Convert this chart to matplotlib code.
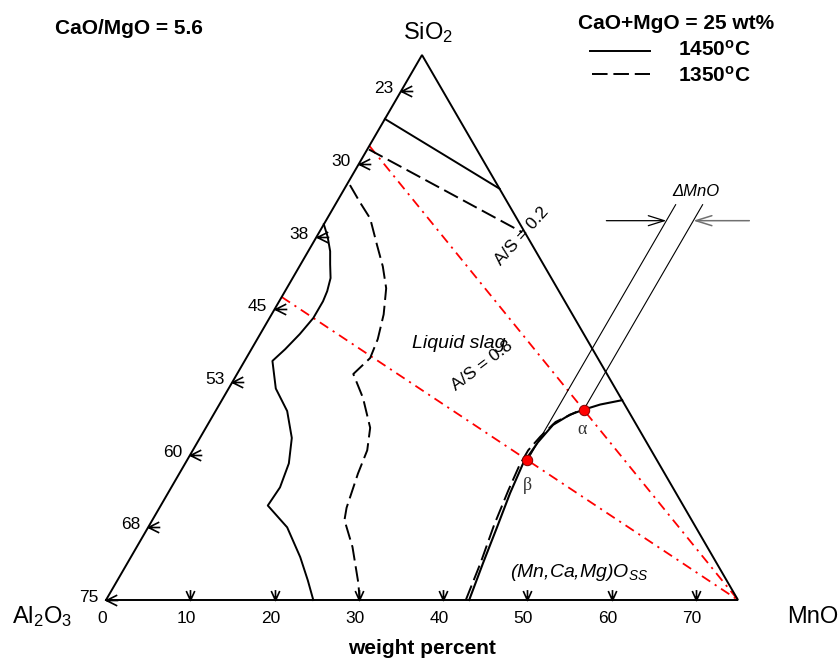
import numpy as np
import matplotlib
matplotlib.use("Agg")
import matplotlib.pyplot as plt
from matplotlib.path import Path
from matplotlib.lines import Line2D

plt.rcParams['font.family'] = ['Liberation Sans', 'DejaVu Sans']
plt.rcParams['mathtext.fontset'] = 'custom'
plt.rcParams['mathtext.rm'] = 'Liberation Sans'
plt.rcParams['mathtext.it'] = 'Liberation Sans:italic'
plt.rcParams['mathtext.bf'] = 'Liberation Sans:bold'

# ---------------- data (pseudo-ternary, wt%, MnO / SiO2 on a 75-unit triangle) ----------------
bottom_tick_vals = [10, 20, 30, 40, 50, 60, 70]
bottom_label_vals = [0, 10, 20, 30, 40, 50, 60, 70]
left_tick_vals = [0, 10, 20, 30, 40, 50, 60, 70]
left_labels = ['75', '68', '60', '53', '45', '38', '30', '23']

# 1450 C liquidus (solid)
l1450_top_mno = [0.0, 9.4, 18.4]
l1450_top_sio2 = [66.2, 61.3, 56.6]
l1450_left_mno = [0.0, 1.3, 2.6, 3.5, 4.5, 5.0, 5.2, 5.2, 4.7, 4.0, 3.3, 5.6, 8.5,
                  10.9, 12.3, 12.9, 12.7, 16.5, 20.1, 22.6, 24.6]
l1450_left_sio2 = [51.7, 50.0, 48.0, 46.2, 44.3, 42.5, 41.1, 38.8, 36.6, 34.5, 32.9, 29.1, 26.0,
                   22.3, 18.8, 15.5, 13.0, 10.0, 5.9, 2.7, 0.0]
l1450_right_mno = [43.1, 42.2, 41.4, 40.6, 40.1, 40.4, 41.0, 42.3, 43.6, 45.2, 47.5]
l1450_right_sio2 = [0.0, 5.1, 10.0, 14.7, 18.8, 21.7, 24.1, 25.5, 26.2, 26.9, 27.5]

# 1350 C liquidus (dashed)
l1350_top_mno = [0.2, 24.1]
l1350_top_sio2 = [62.0, 50.6]
l1350_left_mno = [0.4, 2.7, 5.1, 7.7, 9.9, 11.8, 13.3, 14.3, 14.7, 13.8, 16.6, 19.5, 20.7,
                  21.2, 22.2, 22.8, 25.6, 28.8, 30.1]
l1350_left_sio2 = [57.1, 54.8, 52.5, 48.9, 45.9, 42.9, 39.3, 35.9, 33.3, 31.1, 27.8, 23.7, 20.6,
                   17.4, 12.7, 11.0, 7.3, 2.3, 0.0]
l1350_right_mno = [42.7, 41.9, 40.9, 40.2, 39.8, 39.8, 40.3, 41.1, 42.9]
l1350_right_sio2 = [0.0, 5.1, 10.3, 15.1, 18.5, 20.6, 22.5, 24.5, 25.9]

# A/S lines (red dash-dot), SiO2 where they meet the Al2O3-SiO2 side
as_left_sio2 = [62.5, 41.7]

# points alpha and beta
alpha_mno, alpha_sio2 = 43.6, 26.2
beta_mno, beta_sio2 = 40.4, 19.2
dmno_top_sio2 = 54.4
dmno_arrow_sio2 = 52.2

# ---------------- geometry ----------------
W, H = 839, 659
Ax, Ay = 106, 600          # Al2O3 corner in pixels
kx = 632 / 75.0
ky = 545 / (75 * np.sqrt(3) / 2)


def tern(mno, sio2):
    mno = np.asarray(mno, dtype=float)
    sio2 = np.asarray(sio2, dtype=float)
    return mno + sio2 / 2.0, sio2 * np.sqrt(3) / 2.0


def fx(px):
    return px / W


def fy(py):
    return 1 - py / H


fig = plt.figure(figsize=(W / 100, H / 100), dpi=100)
ax = fig.add_axes([0, 0, 1, 1])
ax.set_xlim(-Ax / kx, (W - Ax) / kx)
ax.set_ylim(-(H - Ay) / ky, Ay / ky)
ax.axis('off')

LW = 1.4

# triangle
tx, ty = tern([0, 75, 0, 0], [0, 0, 75, 0])
ax.plot(tx, ty, color='black', lw=LW, solid_joinstyle='miter', zorder=3)

# tick marks (arrow shaped)
left_marker = Path([(1, 0.5), (0, 0), (1, -0.5), (0, 0), (1.1, 0)],
                   [Path.MOVETO, Path.LINETO, Path.LINETO, Path.MOVETO, Path.LINETO])
bottom_marker = Path([(-0.45, 1), (0, 0), (0.45, 1), (0, 0), (0, 1.1)],
                     [Path.MOVETO, Path.LINETO, Path.LINETO, Path.MOVETO, Path.LINETO])
lx, ly = tern(np.zeros(len(left_tick_vals)), left_tick_vals)
ax.plot(lx, ly, ls='none', marker=left_marker, ms=17, mfc='none', mec='black', mew=1.2, zorder=4)
bx, by = tern(bottom_tick_vals, np.zeros(len(bottom_tick_vals)))
ax.plot(bx, by, ls='none', marker=bottom_marker, ms=15, mfc='none', mec='black', mew=1.2, zorder=4)

# tick labels
for v in bottom_label_vals:
    x, y = tern(v, 0)
    ax.annotate(str(v), (x, y), xytext=(-4 * 0.72, -23 * 0.72), textcoords='offset points',
                ha='center', va='baseline', fontsize=12.5)
for v, lab in zip(left_tick_vals, left_labels):
    x, y = tern(0, v)
    ax.annotate(lab, (x, y), xytext=(-8 * 0.72, -2 * 0.72), textcoords='offset points',
                ha='right', va='baseline', fontsize=12.5)

# liquidus curves
ax.plot(*tern(l1450_top_mno, l1450_top_sio2), color='black', lw=LW, zorder=3)
ax.plot(*tern(l1450_left_mno, l1450_left_sio2), color='black', lw=LW, zorder=3)
ax.plot(*tern(l1450_right_mno, l1450_right_sio2), color='black', lw=LW + 0.1, zorder=3)
dash = (0, (8, 3))
ax.plot(*tern(l1350_top_mno, l1350_top_sio2), color='black', lw=LW, ls=dash, zorder=3)
ax.plot(*tern(l1350_left_mno, l1350_left_sio2), color='black', lw=LW, ls=dash, zorder=3)
ax.plot(*tern(l1350_right_mno, l1350_right_sio2), color='black', lw=LW, ls=dash, zorder=3)

# A/S lines
for s0 in as_left_sio2:
    ax.plot(*tern([0, 75], [s0, 0]), color='red', lw=1.3, ls=(0, (5.5, 3, 1.2, 3)), zorder=2)

# Delta MnO construction
ax.plot(*tern([beta_mno, beta_mno], [beta_sio2, dmno_top_sio2]), color='black', lw=0.8, zorder=2)
ax.plot(*tern([alpha_mno, alpha_mno], [alpha_sio2, dmno_top_sio2]), color='black', lw=0.8, zorder=2)
tipL = tern(beta_mno, dmno_arrow_sio2)
tipR = tern(alpha_mno, dmno_arrow_sio2)
ax.annotate('', xy=(float(tipL[0]), float(tipL[1])), xytext=(float(tipL[0]) - 60 / kx, float(tipL[1])),
            arrowprops=dict(arrowstyle='->,head_length=1.15,head_width=0.36', lw=0.9, color='black',
                            shrinkA=0, shrinkB=0, mutation_scale=10))
ax.annotate('', xy=(float(tipR[0]), float(tipR[1])), xytext=(float(tipR[0]) + 56 / kx, float(tipR[1])),
            arrowprops=dict(arrowstyle='->,head_length=1.15,head_width=0.36', lw=1.1, color='#707070',
                            shrinkA=0, shrinkB=0, mutation_scale=10))

# alpha / beta points
ax.plot(*tern([alpha_mno, beta_mno], [alpha_sio2, beta_sio2]), ls='none', marker='o', ms=7.5,
        mfc='red', mec='#800000', mew=0.7, zorder=6)

# ---------------- texts ----------------
fig.text(fx(55), fy(34), 'CaO/MgO = 5.6', fontsize=15, fontweight='bold', ha='left', va='baseline')
fig.text(fx(578), fy(29), 'CaO+MgO = 25 wt%', fontsize=15, fontweight='bold', ha='left', va='baseline')
fig.add_artist(Line2D([fx(590), fx(650)], [fy(51), fy(51)], color='black', lw=LW))
fig.add_artist(Line2D([fx(592), fx(650)], [fy(74), fy(74)], color='black', lw=LW, ls=(0, (8, 3))))
fig.text(fx(678), fy(56), r'1450$^{\mathbf{o}}$C', fontsize=15, fontweight='bold', ha='left', va='baseline')
fig.text(fx(678), fy(82), r'1350$^{\mathbf{o}}$C', fontsize=15, fontweight='bold', ha='left', va='baseline')

fig.text(fx(403), fy(39), r'SiO$_2$', fontsize=17, ha='left', va='baseline')
fig.text(fx(12), fy(623), r'Al$_2$O$_3$', fontsize=17, ha='left', va='baseline')
fig.text(fx(787), fy(623), 'MnO', fontsize=17, ha='left', va='baseline')
fig.text(fx(422), fy(654), 'weight percent', fontsize=15, fontweight='bold', ha='center', va='baseline')

fig.text(fx(522), fy(236), 'A/S = 0.2', fontsize=12.5, rotation=48, ha='center', va='center',
         rotation_mode='anchor')
fig.text(fx(482), fy(366), 'A/S = 0.8', fontsize=12.5, rotation=37, ha='center', va='center',
         rotation_mode='anchor')
fig.text(fx(412), fy(348), 'Liquid slag', fontsize=14, fontstyle='italic', ha='left', va='baseline')
fig.text(fx(510), fy(577), r'(Mn,Ca,Mg)O$_{SS}$', fontsize=14, fontstyle='italic', ha='left', va='baseline')
fig.text(fx(672), fy(196), 'ΔMnO', fontsize=12, fontstyle='italic', ha='left', va='baseline')
fig.text(fx(582), fy(430), 'α', fontsize=13, family='Liberation Serif', color='#333333', ha='center', va='center')
fig.text(fx(527), fy(485), 'β', fontsize=13, family='Liberation Serif', color='#333333', ha='center', va='center')

fig.savefig('out.png', dpi=100)
